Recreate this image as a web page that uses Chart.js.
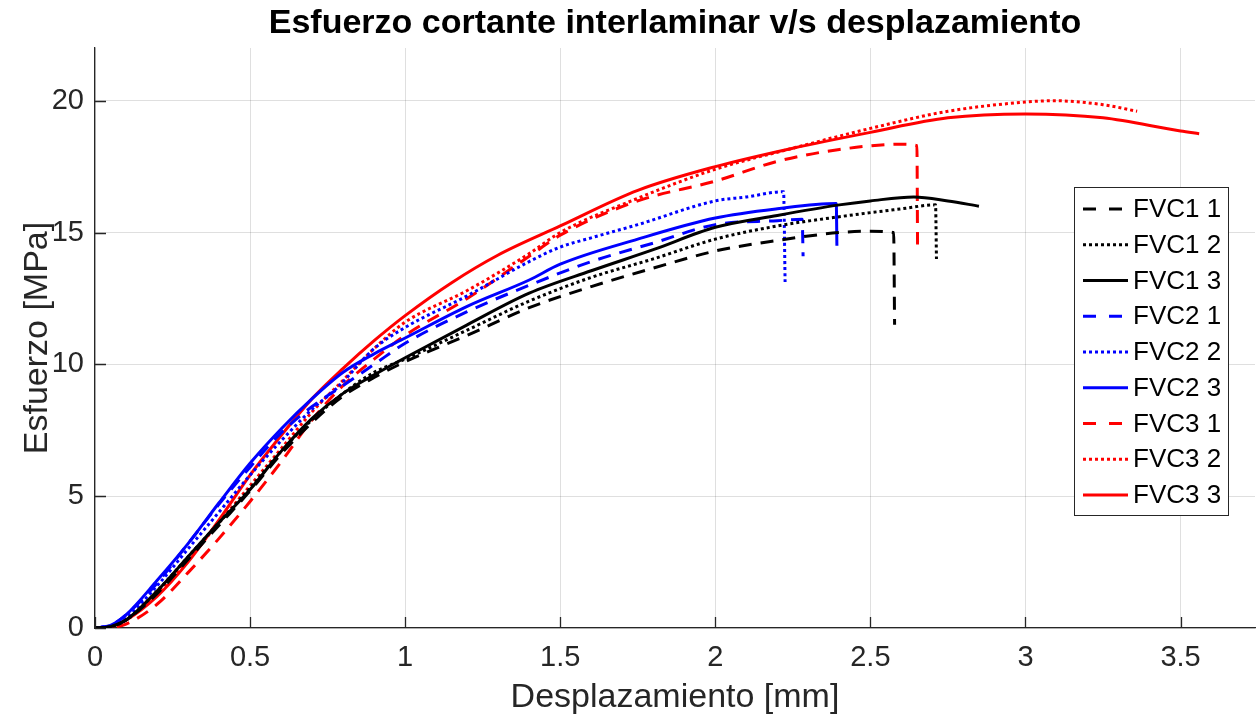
<!DOCTYPE html>
<html>
<head>
<meta charset="utf-8">
<title>Esfuerzo cortante interlaminar</title>
<script src="https://cdn.jsdelivr.net/npm/chart.js@4"></script>
<style>
  html, body { margin: 0; padding: 0; background: #fff; }
  #wrap { width: 1258px; height: 721px; }
</style>
</head>
<body>
<div id="wrap"><canvas id="chart" width="1258" height="721"></canvas></div>
<script>
// desplazamiento [mm] / esfuerzo [MPa] por probeta
const xFVC1_1 = [0, 0.05, 0.1, 0.2, 0.3, 0.4, 0.5, 0.6, 0.7, 0.8, 0.9, 1.0, 1.2, 1.4, 1.6, 1.8, 2.0, 2.2, 2.4, 2.5, 2.575, 2.578];
const yFVC1_1 = [0, 0.05, 0.3, 1.3, 2.6, 3.9, 5.2, 6.6, 7.8, 8.8, 9.5, 10.1, 11.1, 12.15, 12.95, 13.65, 14.3, 14.7, 15.0, 15.05, 15.0, 11.5];

const xFVC1_2 = [0, 0.05, 0.1, 0.2, 0.3, 0.4, 0.5, 0.6, 0.7, 0.8, 0.9, 1.0, 1.2, 1.4, 1.6, 1.8, 2.0, 2.2, 2.4, 2.6, 2.71, 2.713];
const yFVC1_2 = [0, 0.05, 0.3, 1.4, 2.7, 4.0, 5.3, 6.7, 7.9, 8.9, 9.7, 10.2, 11.3, 12.4, 13.3, 14.0, 14.75, 15.25, 15.6, 15.9, 16.05, 14.0];

const xFVC1_3 = [0, 0.05, 0.1, 0.2, 0.3, 0.4, 0.5, 0.6, 0.7, 0.8, 0.9, 1.0, 1.2, 1.4, 1.6, 1.8, 2.0, 2.2, 2.4, 2.5, 2.64, 2.75, 2.85];
const yFVC1_3 = [0, 0.05, 0.3, 1.4, 2.7, 4.0, 5.25, 6.7, 7.95, 8.9, 9.6, 10.25, 11.5, 12.7, 13.55, 14.35, 15.2, 15.65, 16.05, 16.2, 16.35, 16.2, 16.0];

const xFVC2_1 = [0, 0.05, 0.1, 0.2, 0.3, 0.4, 0.5, 0.6, 0.7, 0.8, 0.9, 1.0, 1.2, 1.4, 1.6, 1.8, 2.0, 2.2, 2.28, 2.283];
const yFVC2_1 = [0, 0.1, 0.5, 1.7, 3.2, 4.7, 6.1, 7.4, 8.4, 9.2, 10.0, 10.8, 12.0, 13.0, 13.9, 14.6, 15.3, 15.45, 15.5, 14.1];

const xFVC2_2 = [0, 0.05, 0.1, 0.2, 0.3, 0.4, 0.5, 0.6, 0.7, 0.78, 0.82, 0.9, 1.0, 1.2, 1.4, 1.5, 1.6, 1.75, 2.0, 2.1, 2.22, 2.225];
const yFVC2_2 = [0, 0.1, 0.4, 1.6, 3.0, 4.4, 5.8, 7.1, 8.3, 9.1, 9.6, 10.6, 11.4, 12.6, 13.9, 14.45, 14.8, 15.3, 16.2, 16.35, 16.55, 13.1];

const xFVC2_3 = [0, 0.05, 0.1, 0.2, 0.3, 0.4, 0.5, 0.6, 0.7, 0.8, 0.9, 1.0, 1.2, 1.4, 1.5, 1.75, 2.0, 2.2, 2.39, 2.392];
const yFVC2_3 = [0, 0.1, 0.5, 1.8, 3.2, 4.75, 6.25, 7.55, 8.7, 9.7, 10.4, 11.0, 12.2, 13.2, 13.8, 14.75, 15.55, 15.9, 16.1, 14.5];

const xFVC3_1 = [0, 0.05, 0.1, 0.2, 0.3, 0.4, 0.5, 0.6, 0.7, 0.8, 0.9, 1.0, 1.2, 1.4, 1.5, 1.75, 2.0, 2.2, 2.4, 2.6, 2.65, 2.652];
const yFVC3_1 = [0, 0.02, 0.15, 0.9, 2.1, 3.4, 4.8, 6.3, 7.9, 9.2, 10.2, 11.1, 12.5, 14.1, 14.9, 16.2, 16.95, 17.7, 18.15, 18.35, 18.3, 14.55];

const xFVC3_2 = [0, 0.05, 0.1, 0.2, 0.3, 0.4, 0.5, 0.6, 0.7, 0.8, 0.9, 1.0, 1.2, 1.4, 1.5, 1.75, 2.0, 2.25, 2.5, 2.75, 3.0, 3.09, 3.25, 3.36];
const yFVC3_2 = [0, 0.05, 0.3, 1.3, 2.6, 4.0, 5.4, 6.8, 8.2, 9.4, 10.6, 11.6, 12.8, 14.2, 15.0, 16.3, 17.4, 18.2, 18.95, 19.6, 19.95, 20.0, 19.85, 19.6];

const xFVC3_3 = [0, 0.05, 0.1, 0.2, 0.3, 0.4, 0.5, 0.6, 0.7, 0.8, 0.9, 1.0, 1.15, 1.3, 1.5, 1.75, 2.0, 2.25, 2.5, 2.75, 3.0, 3.25, 3.5, 3.56];
const yFVC3_3 = [0, 0.05, 0.3, 1.2, 2.5, 4.1, 5.8, 7.3, 8.7, 9.85, 10.9, 11.85, 13.1, 14.15, 15.25, 16.6, 17.5, 18.2, 18.8, 19.35, 19.5, 19.35, 18.85, 18.75];

const labels = ['FVC1 1', 'FVC1 2', 'FVC1 3', 'FVC2 1', 'FVC2 2', 'FVC2 3', 'FVC3 1', 'FVC3 2', 'FVC3 3'];
const xTicks = [0, 0.5, 1, 1.5, 2, 2.5, 3, 3.5];
const yTicks = [0, 5, 10, 15, 20];
const title = 'Esfuerzo cortante interlaminar v/s desplazamiento';

const FONT = '"Liberation Sans", Arial, Helvetica, sans-serif';
const AXIS = '#262626';
const DASH = [13, 9];
const DOT = [3, 3];

const series = [
  [xFVC1_1, yFVC1_1, '#000000', DASH],
  [xFVC1_2, yFVC1_2, '#000000', DOT],
  [xFVC1_3, yFVC1_3, '#000000', []],
  [xFVC2_1, yFVC2_1, '#0000ff', DASH],
  [xFVC2_2, yFVC2_2, '#0000ff', DOT],
  [xFVC2_3, yFVC2_3, '#0000ff', []],
  [xFVC3_1, yFVC3_1, '#ff0000', DASH],
  [xFVC3_2, yFVC3_2, '#ff0000', DOT],
  [xFVC3_3, yFVC3_3, '#ff0000', []]
];

const datasets = series.map(([xs, ys, color, dash], i) => ({
  label: labels[i],
  data: xs.map((x, k) => ({ x: x, y: ys[k] })),
  borderColor: color,
  backgroundColor: color,
  borderWidth: 3,
  borderDash: dash,
  pointRadius: 0,
  fill: false,
  cubicInterpolationMode: 'monotone'
}));

// title centred over the plot area, not the whole canvas
const plotTitle = {
  id: 'plotTitle',
  afterDraw(chart) {
    const { ctx, chartArea: a } = chart;
    ctx.save();
    ctx.font = 'bold 34px ' + FONT;
    ctx.fillStyle = '#000';
    ctx.textAlign = 'center';
    ctx.textBaseline = 'middle';
    ctx.fillText(title, (a.left + a.right) / 2, 24);
    ctx.restore();
  }
};

// MATLAB-like tick marks pointing into the axes
const inwardTicks = {
  id: 'inwardTicks',
  afterDatasetsDraw(chart) {
    const { ctx, chartArea: a, scales: { x, y } } = chart;
    ctx.save();
    ctx.strokeStyle = AXIS;
    ctx.lineWidth = 1.3;
    ctx.beginPath();
    x.ticks.forEach(t => {
      const px = Math.round(x.getPixelForValue(t.value)) + 0.5;
      ctx.moveTo(px, a.bottom);
      ctx.lineTo(px, a.bottom - 11);
    });
    y.ticks.forEach(t => {
      const py = Math.round(y.getPixelForValue(t.value)) + 0.5;
      ctx.moveTo(a.left, py);
      ctx.lineTo(a.left + 11, py);
    });
    ctx.stroke();
    ctx.restore();
  }
};

// legend box at the right side of the plot
const boxLegend = {
  id: 'boxLegend',
  afterDraw(chart) {
    const { ctx } = chart;
    const left = 1074.5, top = 187.5, w = 154, h = 328;
    const rowH = 35.75, firstRow = 209;
    ctx.save();
    ctx.fillStyle = '#fff';
    ctx.fillRect(left, top, w, h);
    ctx.strokeStyle = AXIS;
    ctx.lineWidth = 1;
    ctx.strokeRect(left, top, w, h);
    ctx.font = '26px ' + FONT;
    ctx.textBaseline = 'middle';
    chart.data.datasets.forEach((ds, i) => {
      const y = firstRow + i * rowH;
      ctx.strokeStyle = ds.borderColor;
      ctx.lineWidth = ds.borderWidth;
      ctx.setLineDash(ds.borderDash === DASH ? [13, 13] : ds.borderDash);
      ctx.beginPath();
      ctx.moveTo(1083, y);
      ctx.lineTo(1128, y);
      ctx.stroke();
      ctx.setLineDash([]);
      ctx.fillStyle = '#000';
      ctx.fillText(ds.label, 1133, y + 1);
    });
    ctx.restore();
  }
};

const keepTicks = list => scale => {
  scale.ticks = list.map(v => ({ value: v }));
};

new Chart(document.getElementById('chart'), {
  type: 'line',
  data: { datasets },
  options: {
    responsive: false,
    animation: false,
    devicePixelRatio: 1,
    layout: { padding: { top: 48, right: 3 } },
    plugins: {
      legend: { display: false },
      tooltip: { enabled: false },
      title: { display: false }
    },
    scales: {
      x: {
        type: 'linear',
        min: 0,
        max: 3.74,
        afterBuildTicks: keepTicks(xTicks),
        afterFit: s => { s.height = 93; },
        ticks: { color: AXIS, font: { family: FONT, size: 29 }, padding: 13, maxRotation: 0, callback: v => String(v) },
        grid: { color: 'rgba(38,38,38,0.15)', drawTicks: false },
        border: { color: AXIS, width: 1.3 },
        title: {
          display: true,
          text: 'Desplazamiento [mm]',
          color: AXIS,
          font: { family: FONT, size: 34 },
          padding: { top: 0, bottom: 3 }
        }
      },
      y: {
        type: 'linear',
        min: 0,
        max: 22,
        afterBuildTicks: keepTicks(yTicks),
        afterFit: s => { s.width = 95; },
        ticks: { color: AXIS, font: { family: FONT, size: 29 }, padding: 11, callback: v => String(v) },
        grid: { color: 'rgba(38,38,38,0.15)', drawTicks: false },
        border: { color: AXIS, width: 1.3 },
        title: {
          display: true,
          text: 'Esfuerzo [MPa]',
          color: AXIS,
          font: { family: FONT, size: 34 },
          padding: { top: 17, bottom: 0 }
        }
      }
    }
  },
  plugins: [inwardTicks, boxLegend, plotTitle]
});
</script>
</body>
</html>
